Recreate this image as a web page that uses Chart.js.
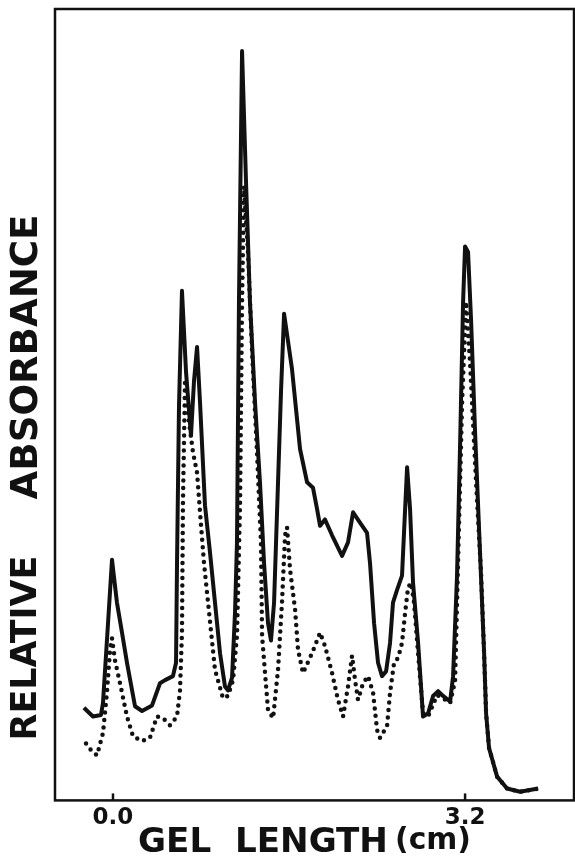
<!DOCTYPE html>
<html>
<head>
<meta charset="utf-8">
<script src="https://cdn.jsdelivr.net/npm/chart.js@4/dist/chart.umd.min.js"></script>
<style>
  body { margin: 0; background: #fff; }
</style>
</head>
<body>
<canvas id="myChart" width="575" height="860"></canvas>
<script>
// gel length (cm) and relative absorbance, solid trace
const solidX = [-0.264,-0.182,-0.109,-0.091,-0.045,-0.009,0.036,0.082,0.127,0.200,0.264,0.355,0.427,0.473,0.545,0.573,0.582,0.600,0.627,0.664,0.709,0.736,0.764,0.791,0.836,0.882,0.927,0.973,1.018,1.045,1.082,1.109,1.127,1.145,1.173,1.209,1.245,1.291,1.336,1.373,1.409,1.436,1.464,1.500,1.527,1.555,1.627,1.700,1.764,1.818,1.855,1.882,1.927,1.991,2.082,2.136,2.182,2.245,2.309,2.336,2.373,2.409,2.445,2.482,2.518,2.545,2.582,2.627,2.655,2.673,2.700,2.727,2.773,2.818,2.864,2.909,2.955,3.000,3.064,3.091,3.127,3.155,3.182,3.200,3.227,3.255,3.291,3.336,3.373,3.391,3.418,3.491,3.582,3.700,3.864]
const solidY = [11.7,10.6,10.8,12.3,22.4,30.4,25.0,21.2,17.4,11.9,11.3,12.0,14.8,15.2,15.7,17.4,30.0,49.9,64.4,54.1,46.1,52.9,57.3,50.3,37.3,31.3,25.0,18.6,14.4,13.9,15.5,23.7,32.6,63.0,94.7,78.2,63.0,50.3,40.2,30.0,22.4,20.2,25.0,40.2,51.6,61.5,54.5,44.4,40.2,39.5,36.8,34.7,35.5,33.5,30.9,32.6,36.4,35.1,33.8,30.0,22.4,17.4,15.7,16.3,19.9,25.0,26.6,28.4,36.8,42.1,36.8,27.5,19.9,10.6,11.0,13.2,13.8,13.2,12.5,15.7,28.4,45.2,63.0,70.0,69.3,60.5,46.5,31.3,18.6,11.0,6.6,3.0,1.5,1.1,1.5]

// dotted trace
const dotX = [-0.245,-0.191,-0.145,-0.091,-0.055,-0.027,-0.009,0.018,0.064,0.127,0.182,0.264,0.336,0.400,0.455,0.518,0.582,0.609,0.627,0.636,0.655,0.691,0.727,0.764,0.791,0.827,0.864,0.927,1.000,1.045,1.091,1.127,1.155,1.173,1.191,1.227,1.264,1.309,1.345,1.355,1.409,1.455,1.500,1.536,1.564,1.582,1.609,1.655,1.682,1.727,1.809,1.882,1.927,1.991,2.045,2.091,2.136,2.173,2.200,2.227,2.273,2.318,2.364,2.400,2.427,2.491,2.518,2.555,2.591,2.627,2.655,2.682,2.709,2.736,2.773,2.818,2.864,2.945,3.000,3.064,3.109,3.136,3.173,3.209,3.245,3.300,3.345,3.373,3.391,3.418,3.491,3.582,3.700,3.864]
const dotY = [7.2,6.2,5.7,8.5,13.6,19.0,20.5,17.7,14.8,10.6,8.1,7.5,7.9,10.6,10.4,9.5,10.6,13.9,21.2,37.6,53.2,47.8,44.0,41.4,36.4,30.0,25.0,16.5,12.9,13.2,15.2,20.8,37.6,63.0,77.6,69.3,56.7,44.0,32.6,20.8,11.4,10.4,16.5,25.0,33.5,34.5,29.2,24.1,19.0,16.1,18.6,21.2,19.5,16.1,12.7,10.6,14.4,18.3,15.2,12.7,14.8,15.7,13.6,8.9,7.9,9.4,13.6,17.4,18.0,19.9,23.7,26.9,27.5,25.0,18.6,11.0,10.6,13.3,12.9,12.3,15.1,30.0,50.3,63.0,55.4,40.2,28.8,18.6,11.0,6.6,3.0,1.5,1.1,1.5]

const tickVals = [0, 3.2]

const toPoints = (xs, ys) => xs.map((x, i) => ({x: x, y: ys[i]}))

const fitText = (c, text, cx, cy, width, rot) => {
    c.save()
    c.translate(cx, cy)
    c.rotate(rot)
    c.font = 'bold 34px "DejaVu Sans"'
    const size = 34 * width / c.measureText(text).width
    c.font = `bold ${size}px "DejaVu Sans"`
    c.textAlign = 'center'
    c.textBaseline = 'middle'
    c.fillStyle = '#111'
    c.fillText(text, 0, 0)
    c.restore()
}

const framePlugin = {
    id: 'frame',
    afterDraw(chart) {
        const c = chart.ctx
        const a = chart.chartArea
        c.save()
        c.strokeStyle = '#111'
        c.lineWidth = 2.5
        c.strokeRect(a.left, a.top, a.right - a.left, a.bottom - a.top)
        // small ticks pointing up from the bottom edge
        const xs = chart.scales.x
        tickVals.forEach(v => {
            const px = xs.getPixelForValue(v)
            c.beginPath()
            c.moveTo(px, a.bottom)
            c.lineTo(px, a.bottom - 7)
            c.stroke()
        })
        c.restore()
        fitText(c, 'RELATIVE', 27, 648, 185, -Math.PI / 2)
        fitText(c, 'ABSORBANCE', 27, 357, 285, -Math.PI / 2)
        fitText(c, 'GEL  LENGTH', 263, 843, 250, 0)
        fitText(c, '(cm)', 433, 841, 76, 0)
    }
}

const ctx = document.getElementById('myChart')

const config = {
    type: 'line',
    data: {
        datasets: [
            {
                label: 'dotted',
                data: toPoints(dotX, dotY),
                borderColor: '#111',
                borderWidth: 4.5,
                borderDash: [0, 7.5],
                borderCapStyle: 'round',
                pointRadius: 0,
                tension: 0,
                fill: false
            },
            {
                label: 'solid',
                data: toPoints(solidX, solidY),
                borderColor: '#111',
                borderWidth: 4,
                borderJoinStyle: 'round',
                pointRadius: 0,
                tension: 0,
                fill: false
            }
        ]
    },
    options: {
        responsive: false,
        animation: false,
        layout: {
            padding: {left: 55, right: 1, top: 9, bottom: 24}
        },
        scales: {
            x: {
                type: 'linear',
                min: -0.527,
                max: 4.19,
                afterBuildTicks(scale) {
                    scale.ticks = tickVals.map(v => ({value: v}))
                },
                grid: {display: false, drawTicks: false},
                border: {display: false},
                ticks: {
                    padding: 4,
                    color: '#111',
                    autoSkip: false,
                    maxRotation: 0,
                    font: {family: 'DejaVu Sans', size: 23, weight: 'bold'},
                    callback: v => v.toFixed(1)
                }
            },
            y: {
                display: false,
                min: 0,
                max: 100
            }
        },
        plugins: {
            legend: {display: false},
            tooltip: {enabled: false}
        }
    },
    plugins: [framePlugin]
}

const chart1 = new Chart(ctx, config)
</script>
</body>
</html>
